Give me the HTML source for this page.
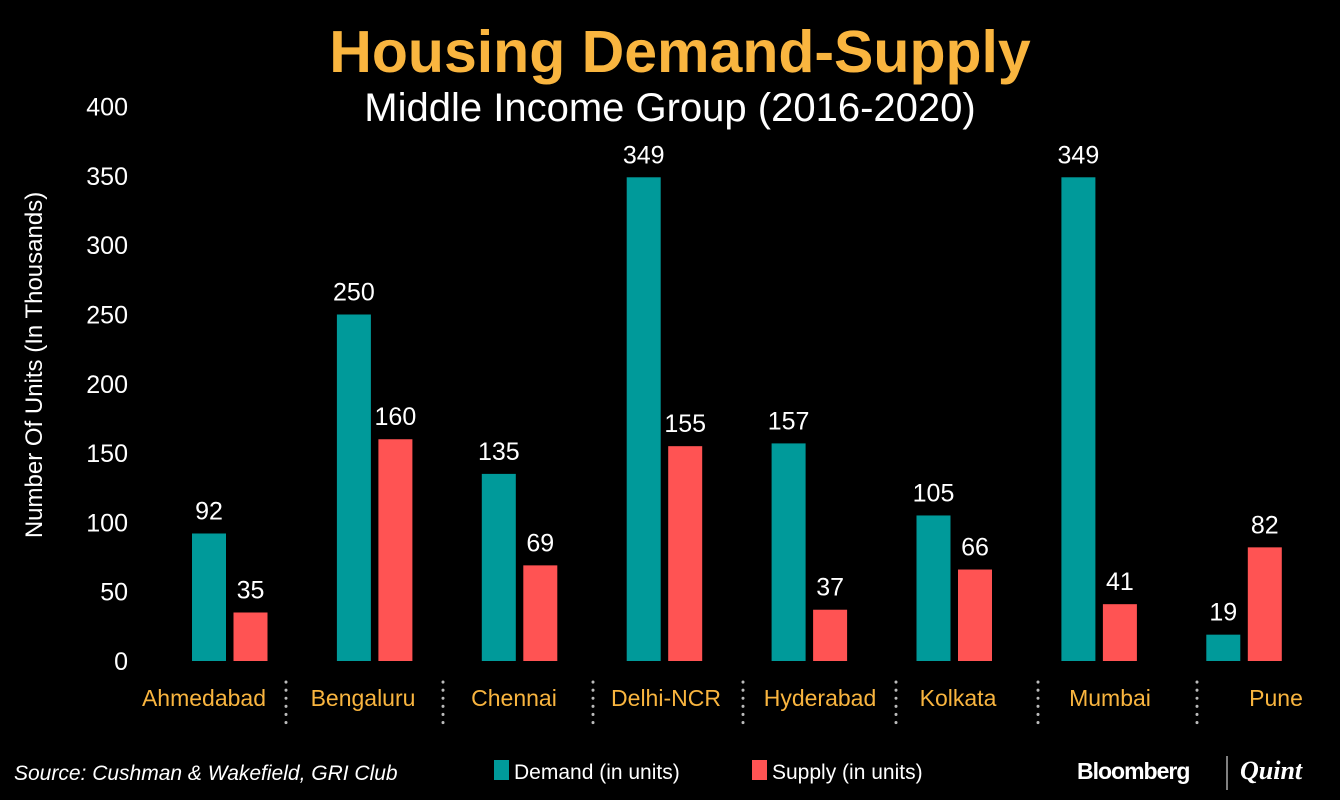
<!DOCTYPE html>
<html><head><meta charset="utf-8">
<style>
body{margin:0;background:#000;width:1340px;height:800px;overflow:hidden;font-family:"Liberation Sans",sans-serif}
svg{display:block}
</style></head>
<body>
<svg id="chart" width="1340" height="800">
<rect width="1340" height="800" fill="#000"/>
<text x="680" y="72" text-anchor="middle" fill="#f9b53f" font-size="59" font-weight="bold">Housing Demand-Supply</text>
<text x="670" y="121" text-anchor="middle" fill="#fff" font-size="40">Middle Income Group (2016-2020)</text>
<text transform="translate(42,365) rotate(-90)" text-anchor="middle" fill="#fff" font-size="24">Number Of Units (In Thousands)</text>
<g id="yticks"></g>
<g id="bars"></g>
<g id="cats"></g>
<text x="14" y="780" fill="#fff" font-size="21" font-style="italic">Source: Cushman &amp; Wakefield, GRI Club</text>
<g>
<rect x="494" y="760" width="15" height="20" fill="#009a9a"/>
<text x="514" y="779" fill="#fff" font-size="21">Demand (in units)</text>
<rect x="752" y="760" width="15" height="20" fill="#ff5353"/>
<text x="772" y="779" fill="#fff" font-size="21">Supply (in units)</text>
</g>
<text x="1077" y="779" fill="#fff" font-size="23" font-weight="bold" letter-spacing="-1">Bloomberg</text>
<line x1="1227" y1="756" x2="1227" y2="790" stroke="#fff" stroke-width="1"/>
<text x="1240" y="779" fill="#fff" font-size="26" font-style="italic" font-weight="bold" font-family="Liberation Serif,serif">Quint</text>
</svg>
<script>
const categories=["Ahmedabad","Bengaluru","Chennai","Delhi-NCR","Hyderabad","Kolkata","Mumbai","Pune"];
const demand=[92,250,135,349,157,105,349,19];
const supply=[35,160,69,155,37,66,41,82];
const yTicks=[0,50,100,150,200,250,300,350,400];
const NS="http://www.w3.org/2000/svg";
function y(v){return 661-v*1.386;}
function x(i){return 192+i*144.9;}
function mk(tag,attrs,parent,txt){const e=document.createElementNS(NS,tag);for(const k in attrs)e.setAttribute(k,attrs[k]);if(txt!==undefined)e.textContent=txt;parent.appendChild(e);return e;}
const yt=document.getElementById('yticks'),bars=document.getElementById('bars'),cats=document.getElementById('cats');
yTicks.forEach(t=>{const e=mk('text',{x:128,y:y(t)+9,'text-anchor':'end',fill:'#fff','font-size':25},yt,t);

});
const bw=34;
const labelX=[204,363,514,666,820,958,1110,1276];
categories.forEach((c,i)=>{
 const xd=x(i),xs=x(i)+41.5;
 const b1=mk('rect',{x:xd,y:y(demand[i]),width:bw,height:661-y(demand[i]),fill:'#009a9a'},bars);
 
 
 const l1=mk('text',{x:xd+bw/2,y:y(demand[i])-14,'text-anchor':'middle',fill:'#fff','font-size':25},bars,demand[i]);
 
 
 const b2=mk('rect',{x:xs,y:y(supply[i]),width:bw,height:661-y(supply[i]),fill:'#ff5353'},bars);
 
 
 const l2=mk('text',{x:xs+bw/2,y:y(supply[i])-14,'text-anchor':'middle',fill:'#fff','font-size':25},bars,supply[i]);
 
 
 const ct=mk('text',{x:labelX[i],y:706,'text-anchor':'middle',fill:'#f9b53f','font-size':23},cats,c);
 
 
 if(i<categories.length-1){
  const sx=[286,443,593,743,896,1038,1197][i];
  const s=mk('line',{x1:sx,y1:682,x2:sx,y2:728,stroke:'#bbb','stroke-width':3,'stroke-linecap':'round','stroke-dasharray':'0.1 8'},cats);
  
  
 }
});
</script>
</body></html>
